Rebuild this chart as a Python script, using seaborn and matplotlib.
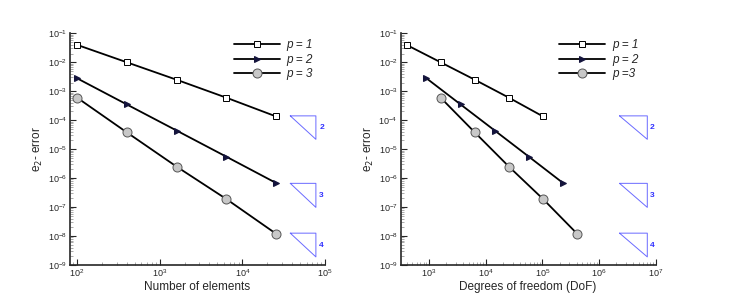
import numpy as np
import pandas as pd
import seaborn as sns
import matplotlib.pyplot as plt
from matplotlib.ticker import LogLocator, NullFormatter

# data
orders = ["p = 1", "p = 2", "p = 3"]
orders_right = ["p = 1", "p = 2", "p =3"]
n_elements = [100, 400, 1600, 6400, 25600]
dof_p1 = [400, 1600, 6400, 25600, 102400]
dof_p2 = [900, 3600, 14400, 57600, 230400]
dof_p3 = [1600, 6400, 25600, 102400, 409600]
err_p1 = [4.0e-2, 1.0e-2, 2.5e-3, 6.0e-4, 1.35e-4]
err_p2 = [2.8e-3, 3.5e-4, 4.4e-5, 5.5e-6, 6.8e-7]
err_p3 = [6.0e-4, 3.8e-5, 2.5e-6, 1.9e-7, 1.2e-8]

# slope triangles: (log10 y top, log10 y bottom, label)
tri_y = [(-3.85, -4.66, "2"), (-6.18, -7.01, "3"), (-7.9, -8.72, "4")]
tri_x_left = (4.58, 4.89)
tri_x_right = (6.36, 6.85)

y_decades = list(range(-9, 0))
x_decades_left = [2, 3, 4, 5]
x_decades_right = [3, 4, 5, 6, 7]

sns.set_style("ticks")
plt.rcParams["font.family"] = ["Liberation Sans", "DejaVu Sans"]

marker_kw = {
    0: dict(marker="s", markersize=4.5, markerfacecolor="white", markeredgecolor="black", markeredgewidth=0.7),
    1: dict(marker=">", markersize=4.5, markerfacecolor="#14143c", markeredgecolor="#14143c"),
    2: dict(marker="o", markersize=6.5, markerfacecolor="#c8c8c8", markeredgecolor="#555555", markeredgewidth=0.7),
}


def draw_panel(ax, xs, labels, xlabel, tri_x, xlim, x_decades, leg_x):
    errs = [err_p1, err_p2, err_p3]
    for i, (x, e) in enumerate(zip(xs, errs)):
        df = pd.DataFrame({"x": x, "err": e})
        sns.lineplot(data=df, x="x", y="err", ax=ax, color="black", linewidth=1.3,
                     **marker_kw[i])
    ax.set_xscale("log")
    ax.set_yscale("log")
    ax.set_xticks([10.0 ** k for k in x_decades])
    ax.set_yticks([10.0 ** k for k in y_decades])
    ax.set_xlim(*xlim)
    ax.set_ylim(1e-9, 1e-1)
    ax.set_xlabel(xlabel, fontsize=8.5, labelpad=1)
    ax.set_ylabel("e$_2$- error", fontsize=8.5, labelpad=2)

    for top, bot, lab in tri_y:
        x0, x1 = 10 ** tri_x[0], 10 ** tri_x[1]
        ax.plot([x0, x1, x1, x0], [10 ** top, 10 ** top, 10 ** bot, 10 ** top],
                color="#6a6aff", linewidth=0.7, clip_on=False)
        ax.text(x1 * 1.1, 10 ** ((top + bot) / 2), lab, color="#3030ff",
                fontsize=6, fontweight="bold", va="center", ha="left")

    ax.yaxis.set_minor_locator(LogLocator(base=10, subs=np.arange(2, 10), numticks=20))
    ax.yaxis.set_minor_formatter(NullFormatter())
    ax.xaxis.set_minor_locator(LogLocator(base=10, subs=np.arange(2, 10), numticks=20))
    ax.xaxis.set_minor_formatter(NullFormatter())
    ax.tick_params(which="both", direction="in", labelsize=6.5, pad=2)
    ax.tick_params(which="major", length=4, width=0.8)
    ax.tick_params(which="minor", length=2, width=0.5, color="#888888",
                   labelbottom=False, labelleft=False)
    sns.despine(ax=ax)
    for s in ("left", "bottom"):
        ax.spines[s].set_linewidth(1.2)

    handles = ax.lines[:3]
    leg = ax.legend(handles, labels, loc="upper left", bbox_to_anchor=(leg_x, 1.02),
                    frameon=False, numpoints=1, handlelength=3.9, fontsize=8.5,
                    labelspacing=0.2, handletextpad=0.6)
    for t in leg.get_texts():
        t.set_fontstyle("italic")


fig = plt.figure(figsize=(7.5, 2.94), dpi=100)
ax1 = fig.add_axes([0.0933, 0.0986, 0.34, 0.788])
ax2 = fig.add_axes([0.534, 0.0986, 0.3404, 0.788])

draw_panel(ax1, [n_elements] * 3, orders, "Number of elements", tri_x_left,
           (82, 1e5), x_decades_left, 0.6)
draw_panel(ax2, [dof_p1, dof_p2, dof_p3], orders_right, "Degrees of freedom (DoF)", tri_x_right,
           (313, 1e7), x_decades_right, 0.58)

fig.savefig("out.png", dpi=100)
